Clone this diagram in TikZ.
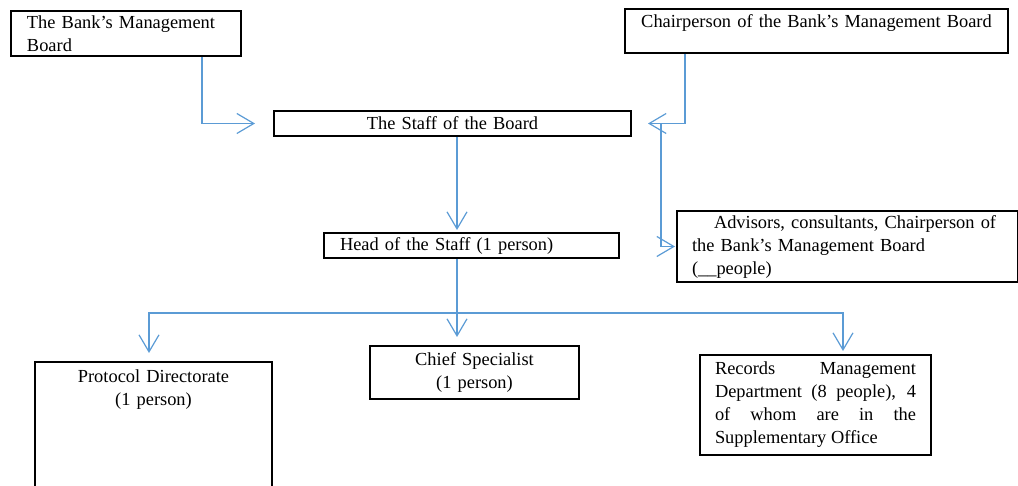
\documentclass[tikz,border=0pt]{standalone}
\usepackage{fontspec}
\setmainfont{Liberation Serif}
\usetikzlibrary{arrows.meta}
\definecolor{wordblue}{HTML}{5B9BD5}
\tikzset{
  every node/.style={font=\fontsize{18.4pt}{23pt}\selectfont},
  box/.style={draw=black, line width=2pt, anchor=north west, inner ysep=0pt},
  wire/.style={draw=wordblue, line width=1.2pt},
  conn/.style={wire, -{Straight Barb[length=17pt,width=20pt,line width=1.2pt]}}
}
\begin{document}
\begin{tikzpicture}[x=1pt,y=-1pt]
\useasboundingbox (0,0) rectangle (1018,486);
\clip (0,0) rectangle (1018,486);

\node[box, minimum width=230pt, minimum height=45pt, text width=198pt, inner xsep=16pt, align=left]
  (mb) at (10,10) {The Bank’s Management\\Board};
\node[box, minimum width=383pt, minimum height=44pt, text width=383pt, inner xsep=0pt,
  text height=19pt, text depth=25pt, align=center]
  (chair) at (624,8) {Chairperson of the Bank’s Management Board};
\node[box, minimum width=357pt, minimum height=25pt, text width=357pt, inner xsep=0pt, align=center]
  (staff) at (273,110) {The Staff of the Board};
\node[box, minimum width=295pt, minimum height=25pt, text width=263pt, inner xsep=16pt, align=left]
  (head) at (323,232) {Head of the Staff (1 person)};
\node[box, minimum width=341pt, minimum height=71pt, text width=311pt, inner xsep=15pt, align=left]
  (adv) at (676,210) {\hspace*{22pt}Advisors, consultants, Chairperson of\\the Bank’s Management Board\\(\_\_people)};
\node[box, minimum width=237pt, minimum height=140pt, text width=237pt, inner xsep=0pt,
  text height=21pt, text depth=119pt, align=center]
  (proto) at (34,361) {Protocol Directorate\\(1 person)};
\node[box, minimum width=209pt, minimum height=53pt, text width=209pt, inner xsep=0pt, align=center]
  (chief) at (369,345) {Chief Specialist\\(1 person)};
\node[box, minimum width=231pt, minimum height=100pt, text width=201pt, inner xsep=15pt, align=justify]
  (rec) at (699,354) {Records Management\linebreak Department (8 people), 4\linebreak of whom are in the\linebreak Supplementary Office};

% connectors
\draw[conn, shorten >=18pt] ([xshift=192pt]mb.south west) |- (staff.west);
\draw[conn, shorten >=16pt] ([xshift=61pt]chair.south west) |- (staff.east);
\coordinate (j) at ([xshift=29pt]staff.east);
\draw[conn, shorten >=1pt] (j) |- (adv.west);
\draw[conn, shorten >=2pt] ([xshift=4.5pt]staff.south) -- ([xshift=4.5pt]staff.south |- head.north);
\coordinate (bus) at ([xshift=-14.5pt,yshift=-54pt]head.south);
\draw[wire] ([xshift=-14.5pt]head.south) -- (bus);
\draw[conn, shorten >=8pt] (bus) -| ([xshift=-4.5pt]proto.north);
\draw[conn, shorten >=8pt] (bus) -- ([xshift=-17.5pt]chief.north);
\draw[conn, shorten >=3pt] (bus) -| ([xshift=27.5pt]rec.north);
\end{tikzpicture}
\end{document}
